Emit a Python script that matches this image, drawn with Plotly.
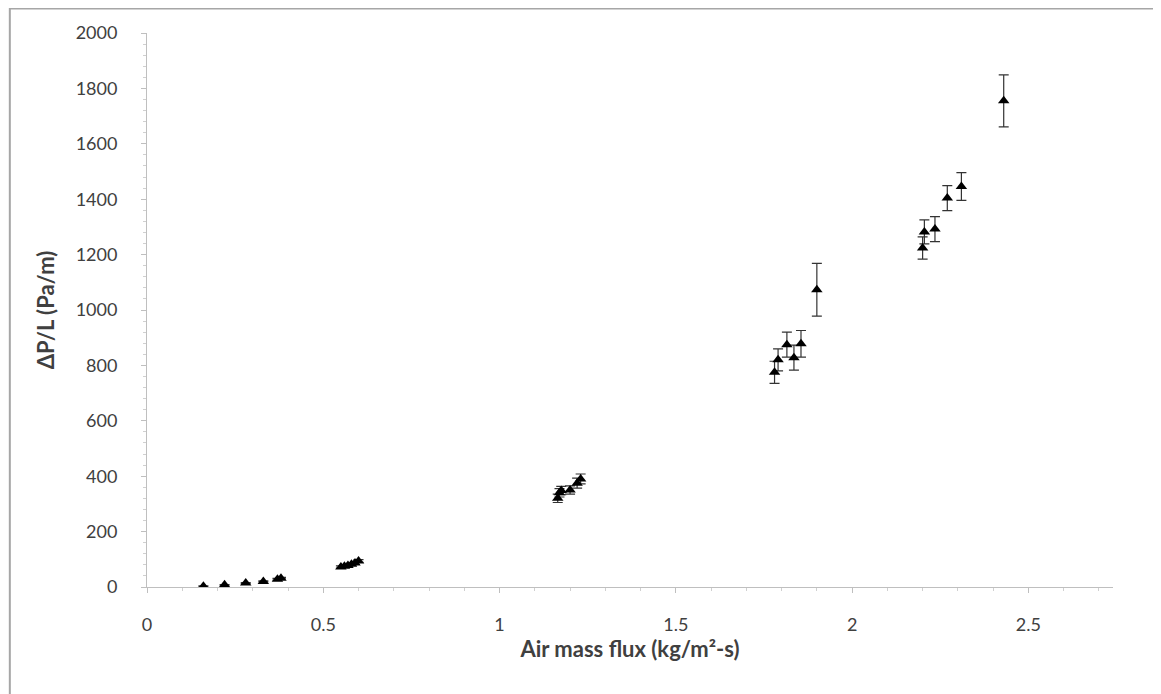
import plotly.graph_objects as go

# Air mass flux (kg/m2-s)
flux = [0.16, 0.22, 0.28, 0.33, 0.37, 0.38,
        0.55, 0.56, 0.57, 0.58, 0.59, 0.60,
        1.165, 1.17, 1.175, 1.20, 1.22, 1.23,
        1.78, 1.79, 1.815, 1.835, 1.855,
        1.90,
        2.20, 2.205, 2.235, 2.27, 2.31,
        2.43]
# Pressure drop per length (Pa/m)
dpl = [3, 8, 14, 20, 28, 32,
       72, 75, 78, 82, 87, 94,
       320, 340, 348, 350, 375, 390,
       775, 820, 875, 828, 878,
       1073,
       1224, 1282, 1292, 1404, 1446,
       1755]
# Error bar half-widths (Pa/m)
err = [1, 1, 2, 2, 3, 3,
       4, 4, 4, 4, 5, 5,
       15, 15, 15, 15, 18, 18,
       40, 40, 45, 45, 48,
       95,
       40, 43, 45, 45, 50,
       94]

fig = go.Figure()
fig.add_trace(go.Scatter(
    x=flux, y=dpl, mode="markers",
    marker=dict(symbol="triangle-up", size=10, color="black"),
    error_y=dict(type="data", array=err, visible=True, color="#333333",
                 thickness=1.2, width=5),
    showlegend=False,
))

font = "Lato, 'Open Sans', sans-serif"
fig.update_layout(
    width=1161, height=694,
    margin=dict(l=139, r=56, t=25, b=115),
    paper_bgcolor="white", plot_bgcolor="white",
    font=dict(family=font, size=18, color="#404040"),
    xaxis=dict(
        range=[0, 2.74], dtick=0.5, tick0=0,
        showgrid=False, zeroline=False,
        showline=True, linecolor="#bfbfbf", linewidth=1,
        ticks="outside", ticklen=5, tickcolor="#bfbfbf",
        minor=dict(dtick=0.1, ticks="outside", ticklen=3, tickcolor="#d0d0d0"),
        ticklabelstandoff=16,
        title=dict(text="<b>Air mass flux (kg/m²-s)</b>", font=dict(size=22, color="#404040"), standoff=8),
    ),
    yaxis=dict(
        range=[0, 2000], dtick=200, tick0=0,
        showgrid=False, zeroline=False,
        showline=True, linecolor="#bfbfbf", linewidth=1,
        ticks="outside", ticklen=5, tickcolor="#bfbfbf",
        minor=dict(dtick=40, ticks="outside", ticklen=3, tickcolor="#d0d0d0"),
        ticklabelstandoff=20,
        title=dict(text="<b>ΔP/L (Pa/m)</b>", font=dict(size=22, color="#404040"), standoff=14),
    ),
    shapes=[dict(type="rect", xref="paper", yref="paper",
                 x0=-0.142, x1=1.051, y0=-0.199, y1=1.044,
                 line=dict(color="#a6a6a6", width=2), layer="below")],
)

fig.write_html("out.html")
